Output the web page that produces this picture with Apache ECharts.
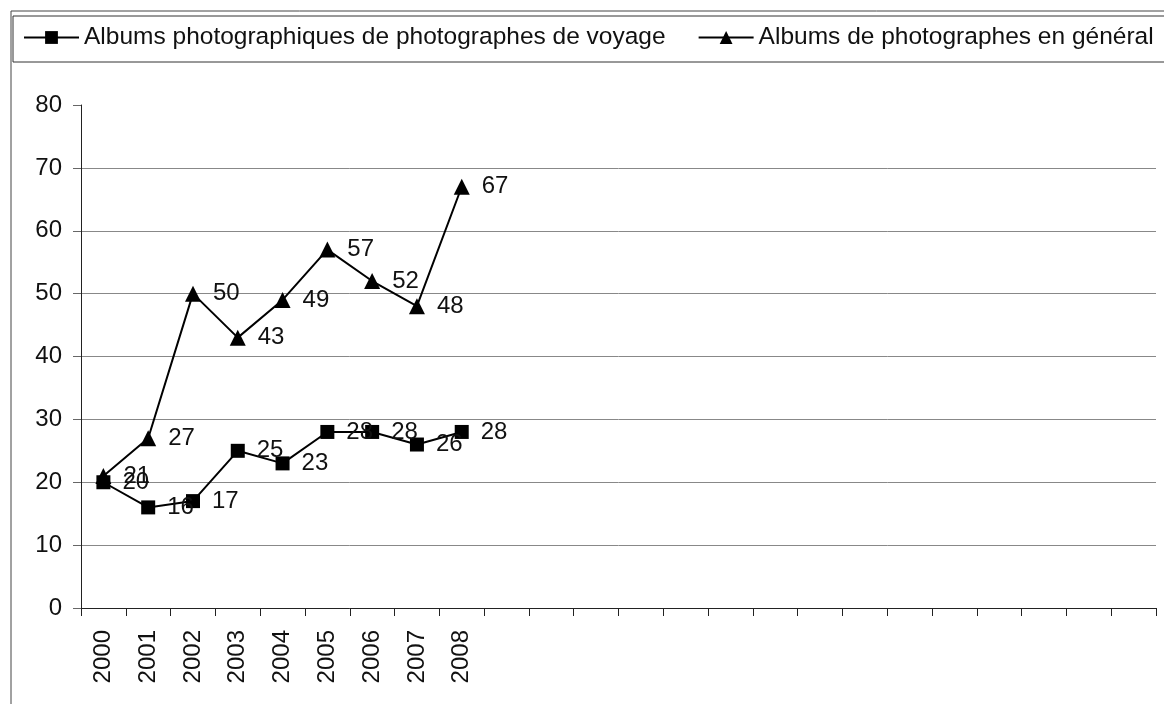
<!DOCTYPE html>
<html>
<head>
<meta charset="utf-8">
<script src="https://cdn.jsdelivr.net/npm/echarts@6/dist/echarts.min.js"></script>
<style>
  html, body { margin: 0; padding: 0; background: #fff; }
  #chart { width: 1164px; height: 704px; }
</style>
</head>
<body>
<div id="chart"></div>
<script>
// Scanned line chart: two album series 2000-2008 on a wide category axis
// that keeps empty slots to the right (as in the original spreadsheet).
const FONT = '"Liberation Sans", Arial, Helvetica, sans-serif';

const years = ['2000', '2001', '2002', '2003', '2004', '2005', '2006', '2007', '2008'];
const emptySlots = 15;   // blank categories after 2008
const categories = years.concat(new Array(emptySlots).fill(''));

const voyageName = 'Albums photographiques de photographes de voyage';
const voyageValues = [20, 16, 17, 25, 23, 28, 28, 26, 28];

const generalName = 'Albums de photographes en général';
const generalValues = [21, 27, 50, 43, 49, 57, 52, 48, 67];

const yTicks = { min: 0, max: 80, interval: 10 };

const chart = echarts.init(document.getElementById('chart'), null, { renderer: 'canvas' });

const labelStyle = {
  show: true,
  position: 'right',
  distance: 12,
  color: '#111',
  fontFamily: FONT,
  fontSize: 24,
};

chart.setOption({
  backgroundColor: '#fff',
  animation: false,
  textStyle: { fontFamily: FONT, color: '#111' },
  graphic: [
    {
      // outer chart frame, runs off the right and bottom edges
      type: 'rect',
      shape: { x: 11, y: 11, width: 1200, height: 800 },
      style: { fill: 'none', stroke: '#444', lineWidth: 1 },
      silent: true,
    },
    {
      // legend box, also cut by the right edge in the scan
      type: 'rect',
      shape: { x: 13, y: 16, width: 1200, height: 46 },
      style: { fill: 'none', stroke: '#333', lineWidth: 1 },
      silent: true,
    },
  ],
  legend: {
    left: 13,
    top: 16,
    padding: [9, 10, 9, 10],
    itemWidth: 55,
    itemHeight: 16,
    itemGap: 32,
    textStyle: { fontFamily: FONT, fontSize: 24.5, color: '#111' },
    data: [voyageName, generalName],
  },
  grid: { left: 81, right: 8, top: 105, bottom: 96, containLabel: false },
  xAxis: {
    type: 'category',
    data: categories,
    boundaryGap: true,
    axisLine: { lineStyle: { color: '#222', width: 1 } },
    axisTick: { show: true, interval: 0, length: 8, lineStyle: { color: '#222' } },
    axisLabel: {
      interval: 0,
      rotate: 90,
      margin: 22,
      fontFamily: FONT,
      fontSize: 24,
      color: '#111',
    },
    splitLine: { show: false },
  },
  yAxis: {
    type: 'value',
    min: yTicks.min,
    max: yTicks.max,
    interval: yTicks.interval,
    axisLine: { show: true, lineStyle: { color: '#222', width: 1 } },
    axisTick: { show: true, length: 8, lineStyle: { color: '#666' } },
    axisLabel: { margin: 19, fontFamily: FONT, fontSize: 24, color: '#111' },
    splitLine: { show: true, showMaxLine: false, lineStyle: { color: '#888', width: 1 } },
  },
  series: [
    {
      name: voyageName,
      type: 'line',
      data: voyageValues,
      symbol: 'rect',
      symbolSize: 14,
      itemStyle: { color: '#000' },
      lineStyle: { color: '#000', width: 2 },
      label: labelStyle,
    },
    {
      name: generalName,
      type: 'line',
      data: generalValues,
      symbol: 'triangle',
      symbolSize: 16,
      itemStyle: { color: '#000' },
      lineStyle: { color: '#000', width: 2 },
      label: labelStyle,
    },
  ],
});
</script>
</body>
</html>
